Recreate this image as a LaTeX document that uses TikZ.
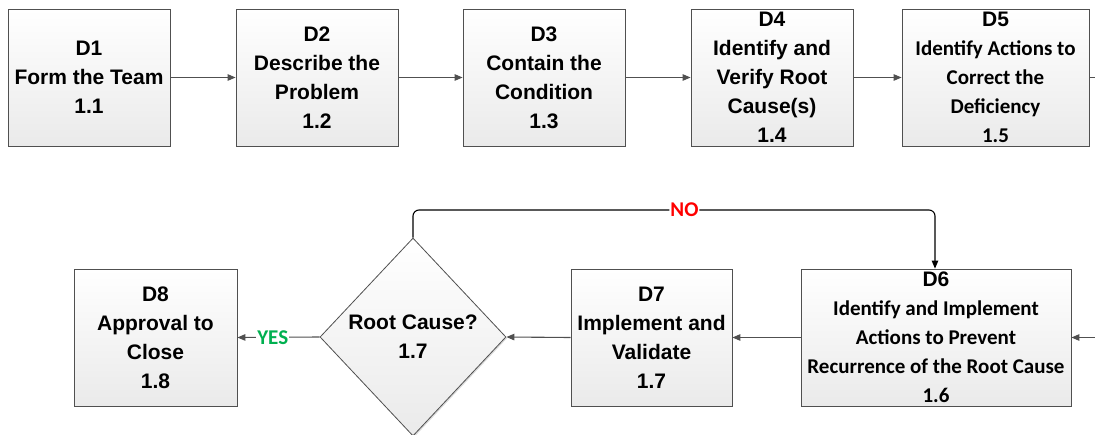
\documentclass[tikz,border=0pt]{standalone}
\usepackage{fontspec}
\setmainfont{Liberation Sans}
\newfontfamily\calibri{Carlito}
\usetikzlibrary{arrows.meta,shapes.geometric,shadows}
\definecolor{boxline}{HTML}{505050}
\definecolor{boxbot}{HTML}{EAEAEA}
\definecolor{conn}{HTML}{505050}
\definecolor{nored}{HTML}{FF0000}
\definecolor{yesgreen}{HTML}{00B050}
\begin{document}
\begin{tikzpicture}[x=1pt,y=-1pt,
  shape box/.style={draw=boxline, line width=0.8pt, top color=white, bottom color=boxbot,
    inner sep=0pt, align=center, text=black,
    drop shadow={shadow xshift=1.2pt, shadow yshift=-1.2pt, opacity=0.15, fill=black}},
  stepbox/.style={shape box, rectangle, minimum width=162pt, minimum height=137pt,
    font=\fontsize{21}{29}\selectfont\bfseries},
  calbox/.style={stepbox, font=\fontsize{21}{29}\selectfont\calibri\bfseries},
  flow/.style={draw=conn, line width=1.1pt, -{Triangle[length=8pt,width=6.5pt]}},
  loopline/.style={draw=black, line width=1.1pt, rounded corners=6pt, -{Triangle[length=8pt,width=6.5pt]}},
  lbl/.style={fill=white, inner sep=1pt, font=\fontsize{21}{25}\selectfont\calibri\bfseries}
]
\useasboundingbox (0,0) rectangle (1095,434);

\node[stepbox] (d1) at (89,77.5) {D1\\Form the Team\\1.1};
\node[stepbox] (d2) at (317,77.5) {D2\\Describe the\\Problem\\1.2};
\node[stepbox] (d3) at (544,77.5) {D3\\Contain the\\Condition\\1.3};
\node[stepbox] (d4) at (772,77.5) {D4\\Identify and\\Verify Root\\Cause(s)\\1.4};
\node[calbox, minimum width=187pt] (d5) at (995.5,77.5) {{\fontspec{Liberation Sans}D5}\\Identify Actions to\\Correct the\\Deficiency\\1.5};

\node[calbox, minimum width=270pt] (d6) at (936,337.5) {{\fontspec{Liberation Sans}D6}\\Identify and Implement\\Actions to Prevent\\Recurrence of the Root Cause\\1.6};
\node[stepbox, minimum width=161pt] (d7) at (651.5,337.5) {D7\\Implement and\\Validate\\1.7};
\node[stepbox, minimum width=163pt] (d8) at (155.5,337.5) {D8\\Approval to\\Close\\1.8};
\node[shape box, diamond, minimum width=186pt, minimum height=198pt, aspect=0.94,
  font=\fontsize{21}{29}\selectfont\bfseries] (rc) at (413,337) {Root Cause?\\1.7};

\coordinate (outR) at (1095,77.5);
\coordinate (inR) at (1095,337.5);
\coordinate (noL) at (413,210);
\coordinate (noR) at (935,210);

\draw[flow] (d1.east) -- (d2.west);
\draw[flow] (d2.east) -- (d3.west);
\draw[flow] (d3.east) -- (d4.west);
\draw[flow] (d4.east) -- (d5.west);
\draw[draw=conn, line width=1.1pt] (d5.east) -- (outR);
\draw[flow] (inR) -- (d6.east);
\draw[flow] (d6.west) -- (d7.east);
\draw[flow] (d7.west) -- (rc.east);
\draw[flow] (rc.west) -- node[lbl, text=yesgreen, pos=0.57] (yes) {YES} (d8.east);
\draw[loopline] (rc.north) -- (noL) -- node[lbl, text=nored, pos=0.52] (no) {NO} (noR) -- (noR |- d6.north);
\end{tikzpicture}
\end{document}
